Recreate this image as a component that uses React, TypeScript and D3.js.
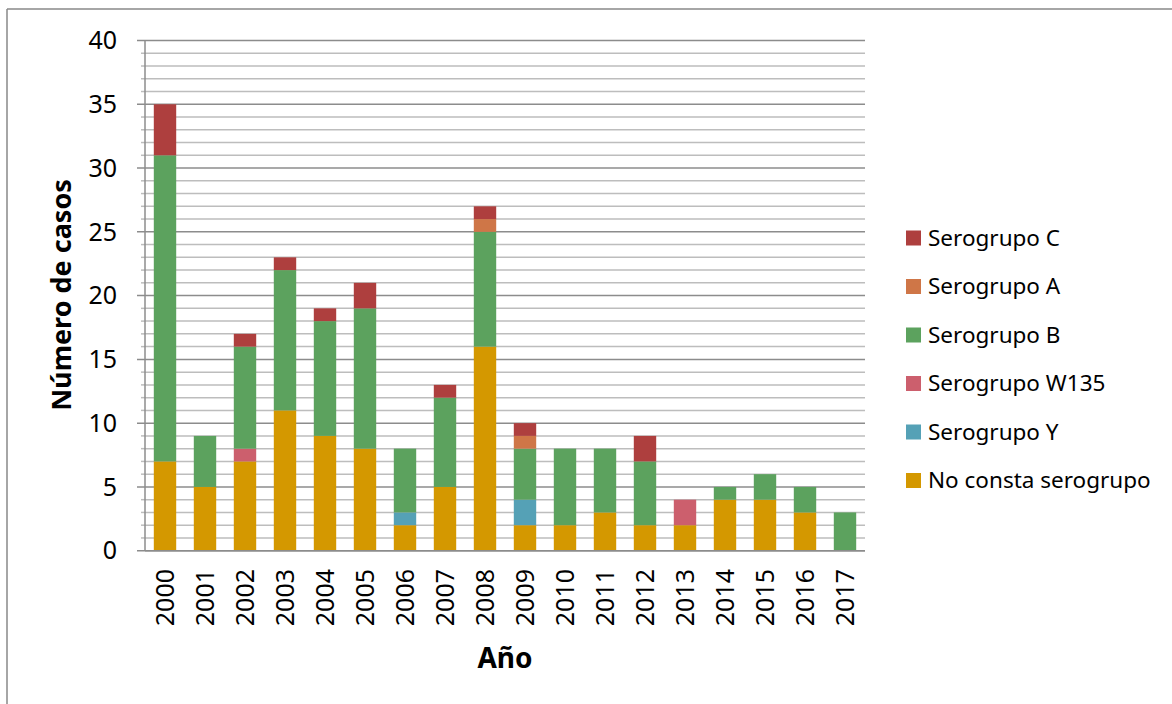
import React from "react";
import * as d3 from "d3";

const years = ["2000","2001","2002","2003","2004","2005","2006","2007","2008","2009","2010","2011","2012","2013","2014","2015","2016","2017"];
const noConsta = [7,5,7,11,9,8,2,5,16,2,2,3,2,2,4,4,3,0];
const serY =     [0,0,0,0,0,0,1,0,0,2,0,0,0,0,0,0,0,0];
const serW135 =  [0,0,1,0,0,0,0,0,0,0,0,0,0,2,0,0,0,0];
const serB =     [24,4,8,11,9,11,5,7,9,4,6,5,5,0,1,2,2,3];
const serA =     [0,0,0,0,0,0,0,0,1,1,0,0,0,0,0,0,0,0];
const serC =     [4,0,1,1,1,2,0,1,1,1,0,0,2,0,0,0,0,0];
const yTicks = [0,5,10,15,20,25,30,35,40];

const seriesNames = ["No consta serogrupo","Serogrupo Y","Serogrupo W135","Serogrupo B","Serogrupo A","Serogrupo C"];
const seriesValues = [noConsta, serY, serW135, serB, serA, serC];
const seriesColors = ["#D49800","#55A1B6","#CC5F6D","#5CA25E","#CF7647","#AE3F3E"];

const FONT = "'Noto Sans', 'Open Sans', sans-serif";

export default function App() {
  const width = 1172, height = 704;
  const left = 145, right = 865, top = 40.5, bottom = 550.7;
  const x = d3.scaleBand<string>().domain(years).range([left, right]).paddingInner(0.44).paddingOuter(0.22);
  const y = d3.scaleLinear().domain([0, 40]).range([bottom, top]);

  const table = years.map((yr, i) => {
    const row: any = { year: yr };
    seriesNames.forEach((n, k) => { row[n] = seriesValues[k][i]; });
    return row;
  });
  const stack = d3.stack<any>().keys(seriesNames)(table);
  const minor = d3.range(0, 41, 1).filter(v => v % 5 !== 0);

  const legendOrder = [5,4,3,2,1,0];

  return (
    <svg width={width} height={height} style={{ position: "absolute", left: 0, top: 0, background: "#fff" }}>
      <rect x={0} y={0} width={width} height={height} fill="#fff" />
      <line x1={7} y1={9} x2={width} y2={9} stroke="#888" strokeWidth={1.5} />
      <line x1={7} y1={9} x2={7} y2={height} stroke="#888" strokeWidth={1.5} />
      {minor.map(v => (
        <line key={"m"+v} x1={left} x2={right} y1={y(v)} y2={y(v)} stroke="#BDBDBD" strokeWidth={1.5} />
      ))}
      {yTicks.map(v => (
        <g key={"t"+v}>
          <line x1={left - 8} x2={right} y1={y(v)} y2={y(v)} stroke="#8C8C8C" strokeWidth={1.5} />
          <text x={117} y={y(v)} dy="0.35em" textAnchor="end" fontFamily={FONT} fontSize={25} fill="#000">{v}</text>
        </g>
      ))}
      {minor.map(v => (
        <line key={"mt"+v} x1={left - 4} x2={left} y1={y(v)} y2={y(v)} stroke="#BDBDBD" strokeWidth={1.5} />
      ))}
      <line x1={left} x2={left} y1={top} y2={bottom} stroke="#8C8C8C" strokeWidth={1.5} />
      {stack.map((s, k) => (
        <g key={"s"+k} fill={seriesColors[k]}>
          {s.map((d, i) => d[1] - d[0] > 0 ? (
            <rect key={i} x={x(years[i])} width={x.bandwidth()} y={y(d[1])} height={y(d[0]) - y(d[1])} />
          ) : null)}
        </g>
      ))}
      <line x1={left} x2={right} y1={bottom} y2={bottom} stroke="#8C8C8C" strokeWidth={1.5} />
      {years.map(yr => (
        <text key={"x"+yr} transform={`translate(${(x(yr) as number) + x.bandwidth()/2},569) rotate(-90)`} dy="0.35em" textAnchor="end" fontFamily={FONT} fontSize={25} fill="#000">{yr}</text>
      ))}
      <text x={(left + right)/2} y={668} textAnchor="middle" fontFamily={FONT} fontWeight="bold" fontSize={28} fill="#000">Año</text>
      <text transform={`translate(62,295) rotate(-90)`} dy="0.35em" textAnchor="middle" fontFamily={FONT} fontWeight="bold" fontSize={27} fill="#000">Número de casos</text>
      {legendOrder.map((k, j) => {
        const cy = 238 + j * 48.5;
        return (
          <g key={"l"+k}>
            <rect x={906} y={cy - 7.5} width={15} height={15} fill={seriesColors[k]} />
            <text x={928} y={cy} dy="0.35em" fontFamily={FONT} fontSize={22.5} fill="#000">{seriesNames[k]}</text>
          </g>
        );
      })}
    </svg>
  );
}
